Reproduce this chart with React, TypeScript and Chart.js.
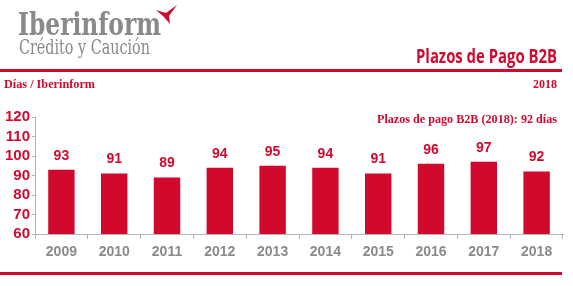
import React, { useEffect, useRef } from "react";
import { Chart, registerables } from "chart.js";

Chart.register(...registerables);

const categories = ["2009", "2010", "2011", "2012", "2013", "2014", "2015", "2016", "2017", "2018"];
const values = [93, 91, 89, 94, 95, 94, 91, 96, 97, 92];
const yTicks = [60, 70, 80, 90, 100, 110, 120];
const title = "Plazos de Pago B2B";
const subtitleLeft = "Días / Iberinform";
const subtitleRight = "2018";
const annotation = "Plazos de pago B2B (2018): 92 días";
const logoName = "Iberinform";
const logoSub = "Crédito y Caución";

const RED = "#d0092d";
const GRAY = "#8a8a8a";

function fitText(ctx: CanvasRenderingContext2D, text: string, x: number, y: number, width: number, align: "left" | "right") {
  const w = ctx.measureText(text).width;
  const s = width / w;
  ctx.save();
  ctx.textAlign = "left";
  const left = align === "left" ? x : x - width;
  ctx.translate(left, y);
  ctx.scale(s, 1);
  ctx.fillText(text, 0, 0);
  ctx.restore();
}

const headerPlugin = {
  id: "header",
  afterDraw(chart: any) {
    const ctx = chart.ctx as CanvasRenderingContext2D;
    ctx.save();
    ctx.textBaseline = "alphabetic";
    // logo
    ctx.fillStyle = GRAY;
    ctx.font = "bold 31px 'DejaVu Serif'";
    fitText(ctx, logoName, 18, 35, 143, "left");
    ctx.font = "20px 'DejaVu Serif'";
    fitText(ctx, logoSub, 19, 54, 131, "left");
    // bird mark
    ctx.fillStyle = RED;
    ctx.beginPath();
    ctx.moveTo(156, 10);
    ctx.lineTo(166, 13);
    ctx.lineTo(177, 5);
    ctx.lineTo(169, 16);
    ctx.lineTo(170, 24);
    ctx.lineTo(164, 17);
    ctx.closePath();
    ctx.fill();
    // title
    ctx.font = "bold 19px 'Open Sans'";
    fitText(ctx, title, 557, 63, 141, "right");
    // top rule
    ctx.fillRect(0, 69, 562, 3);
    // subtitle row
    ctx.font = "bold 13px 'Liberation Serif'";
    fitText(ctx, subtitleLeft, 4, 88, 91, "left");
    fitText(ctx, subtitleRight, 557, 88, 24, "right");
    // annotation
    fitText(ctx, annotation, 557, 123, 180, "right");
    // bottom rule
    ctx.fillRect(0, 272, 562, 3);
    // value labels
    const meta = chart.getDatasetMeta(0);
    ctx.font = "bold 14px 'Liberation Sans'";
    ctx.textAlign = "center";
    ctx.textBaseline = "middle";
    meta.data.forEach((bar: any, i: number) => {
      ctx.fillText(String(values[i]), bar.x, bar.y - 14);
    });
    ctx.restore();
  },
};

export default function App() {
  const ref = useRef<HTMLCanvasElement>(null);
  useEffect(() => {
    const chart = new Chart(ref.current!, {
      type: "bar",
      data: {
        labels: categories,
        datasets: [
          {
            data: values,
            backgroundColor: RED,
            barPercentage: 0.5,
            categoryPercentage: 1,
          },
        ],
      },
      options: {
        animation: false,
        responsive: true,
        maintainAspectRatio: false,
        layout: { padding: { top: 117, right: 10, bottom: 0, left: 0 } },
        plugins: { legend: { display: false }, tooltip: { enabled: false } },
        scales: {
          x: {
            grid: { drawOnChartArea: false, drawTicks: true, tickLength: 5, color: "#b5b5b5", offset: true },
            border: { color: "#b5b5b5", width: 1 },
            ticks: { color: GRAY, font: { family: "'Liberation Sans'", size: 14, weight: "bold" }, padding: 5 },
            afterFit: (s: any) => { s.height = 52; },
          },
          y: {
            min: 60,
            max: 120,
            afterBuildTicks: (s: any) => { s.ticks = yTicks.map((v) => ({ value: v })); },
            grid: { drawOnChartArea: false, drawTicks: true, tickLength: 3, color: "#b5b5b5" },
            border: { color: "#b5b5b5", width: 1 },
            ticks: { color: RED, autoSkip: false, font: { family: "'Liberation Sans'", size: 15, weight: "bold" }, padding: 2 },
            afterFit: (s: any) => { s.width = 35; },
          },
        },
      },
      plugins: [headerPlugin],
    });
    return () => chart.destroy();
  }, []);
  return (
    <div style={{ position: "absolute", left: 0, top: 0, width: 573, height: 286, background: "#fff" }}>
      <canvas ref={ref} />
    </div>
  );
}
